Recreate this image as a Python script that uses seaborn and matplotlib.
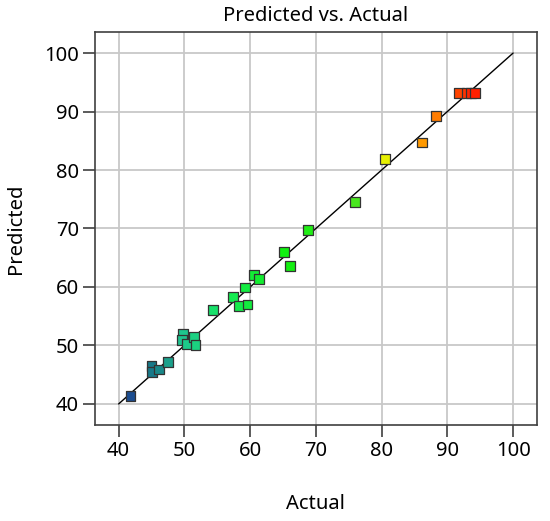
import pandas as pd
from matplotlib import pyplot as plt
from matplotlib.colors import LinearSegmentedColormap
import seaborn as sns

# actual vs predicted values
actual = [41.8, 45.0, 45.1, 46.1, 47.5, 49.8, 49.6, 50.4, 51.4, 51.7,
          54.3, 57.4, 58.3, 59.6, 59.2, 60.6, 61.3, 65.2, 66.1, 68.8,
          75.9, 80.5, 86.1, 88.3, 91.8, 92.9, 93.6, 94.2]
predicted = [41.4, 46.5, 45.5, 45.9, 47.2, 52.0, 50.9, 50.2, 51.5, 50.1,
             56.1, 58.3, 56.8, 57.0, 59.9, 62.0, 61.4, 66.0, 63.6, 69.8,
             74.5, 81.9, 84.7, 89.2, 93.1, 93.1, 93.1, 93.1]
line_x = [40, 100]
ticks = [40, 50, 60, 70, 80, 90, 100]

# Design-Expert like colour ramp (blue -> green -> yellow -> red)
ramp = [(0.0, '#1c4a90'), (0.07, '#187a88'), (0.16, '#1ec88e'),
        (0.28, '#14ea5a'), (0.45, '#10f010'), (0.65, '#40e820'),
        (0.75, '#f0f000'), (0.85, '#ff9a00'), (0.92, '#ff6a00'),
        (1.0, '#ff2000')]
my_color = LinearSegmentedColormap.from_list('de', ramp)

df = pd.DataFrame({'Actual': actual, 'Predicted': predicted})

sns.set_style('white')
plt.rcParams['font.family'] = ['Noto Sans', 'DejaVu Sans']
plt.rcParams['text.color'] = 'black'

fig = plt.figure(figsize=(5.5, 5.21), dpi=100)
ax = fig.add_axes([0.1727, 0.1843, 0.8033, 0.7543])

ax.plot(line_x, line_x, color='black', lw=1.0, zorder=2)
sns.scatterplot(data=df, x='Actual', y='Predicted', hue='Actual', palette=my_color,
                hue_norm=(41.5, 94), marker='s', s=50, edgecolor='#333333',
                linewidth=0.9, legend=False, ax=ax, zorder=3)

ax.set_xlim(36.4, 103.6)
ax.set_ylim(36.4, 103.6)
ax.set_xticks(ticks)
ax.set_yticks(ticks)
ax.grid(True, color='#c8c8c8', lw=1.3, zorder=0)
ax.set_axisbelow(True)
for sp in ax.spines.values():
    sp.set_color('#404040')
    sp.set_linewidth(1.2)
ax.tick_params(axis='both', direction='out', length=8.5, width=1.2, color='#404040',
               labelsize=14.5, labelcolor='black', pad=3, left=True, bottom=True)

ax.set_title('Predicted vs. Actual', fontsize=14.5, pad=8, color='black')
ax.set_xlabel('Actual', fontsize=14.5, labelpad=24, color='black')
ax.set_ylabel('Predicted', fontsize=14.5, labelpad=13, color='black')

fig.savefig('out.png', dpi=100)
